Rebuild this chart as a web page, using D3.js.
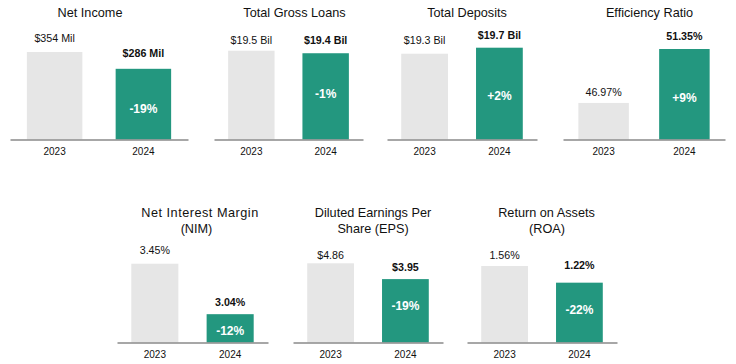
<!DOCTYPE html>
<html><head><meta charset="utf-8">
<script src="https://cdn.jsdelivr.net/npm/d3@7"></script>
<style>html,body{margin:0;padding:0;background:#fff;} svg{display:block;font-family:"Liberation Sans",Arial,sans-serif;}</style>
</head><body><svg id="c" width="736" height="364"></svg>
<script>
// ---- data ----
const titles = [["Net Income"], ["Total Gross Loans"], ["Total Deposits"], ["Efficiency Ratio"],
  ["Net Interest Margin", "(NIM)"], ["Diluted Earnings Per", "Share (EPS)"], ["Return on Assets", "(ROA)"]];
const years = ["2023", "2024"];
const values2023 = [354, 19.5, 19.3, 46.97, 3.45, 4.86, 1.56];
const values2024 = [286, 19.4, 19.7, 51.35, 3.04, 3.95, 1.22];
const labels2023 = ["$354 Mil", "$19.5 Bil", "$19.3 Bil", "46.97%", "3.45%", "$4.86", "1.56%"];
const labels2024 = ["$286 Mil", "$19.4 Bil", "$19.7 Bil", "51.35%", "3.04%", "$3.95", "1.22%"];
const changes = ["-19%", "-1%", "+2%", "+9%", "-12%", "-19%", "-22%"];

// ---- layout ----
const panelX0 = [10, 214, 387, 563, 117, 293, 467];
const panelX1 = [188, 363, 537, 725, 268, 443, 617];
const panelRow = [0, 0, 0, 0, 1, 1, 1];
const rowBase = [139.5, 342.5];
const rowTitleY = [[16.7], [216.5, 232.5]];
const barTopPx = [52, 50.7, 47.7, 49, 263.7, 263.3, 266];
const domainMin = [0, 16, 13.6, 44, 2.81, 0.3, 0];
const titleX = [[90], [294.5], [467], [649.5], [200, 196.5], [373, 373], [546.5, 547]];
const titleSpacing = [[0], [0], [0], [0], [0.5, 0], [0, 0], [0, 0]];
const labelGap = [[10.3, 11.7], [6.4, 9], [10, 9], [7, 9], [9.4, 8], [4.3, 7.7], [6.7, 13.3]];
const changeDy = [8.5, 2, 6.5, 7.7, 7, -0.5, 1.5];

const GREEN = "#23977F", GREY = "#E6E6E6", INK = "#111";

const svg = d3.select("#c");

titles.forEach((t, i) => {
  const g = svg.append("g");
  const base = rowBase[panelRow[i]];
  const vals = [values2023[i], values2024[i]];
  const labs = [labels2023[i], labels2024[i]];
  const x = d3.scaleBand().domain(years).range([panelX0[i], panelX1[i]])
    .paddingInner(0.375).paddingOuter(0.19);
  const y = d3.scaleLinear().domain([domainMin[i], d3.max(vals)]).range([base, barTopPx[i]]);

  // title
  t.forEach((line, k) => {
    g.append("text").attr("text-anchor", "middle").attr("fill", INK)
      .attr("font-size", 12.7)
      .attr("letter-spacing", titleSpacing[i][k])
      .attr("x", titleX[i][k]).attr("y", rowTitleY[panelRow[i]][k]).text(line);
  });

  // bars
  g.selectAll("rect").data(years).join("rect")
    .attr("x", d => x(d))
    .attr("width", x.bandwidth())
    .attr("y", (d, k) => y(vals[k]))
    .attr("height", (d, k) => base - y(vals[k]))
    .attr("fill", (d, k) => k === 0 ? GREY : GREEN);

  // value labels
  g.selectAll("text.val").data(years).join("text").attr("class", "val")
    .attr("x", d => x(d) + x.bandwidth() / 2)
    .attr("y", (d, k) => y(vals[k]) - labelGap[i][k])
    .attr("text-anchor", "middle")
    .attr("font-size", 10.7)
    .attr("font-weight", (d, k) => k === 1 ? "bold" : "normal")
    .attr("fill", INK)
    .text((d, k) => labs[k]);

  // change label
  g.append("text")
    .attr("x", x("2024") + x.bandwidth() / 2)
    .attr("y", (y(vals[1]) + base) / 2 + changeDy[i])
    .attr("text-anchor", "middle")
    .attr("font-size", 12)
    .attr("font-weight", "bold")
    .attr("fill", "#fff")
    .text(changes[i]);

  // axis
  const ax = g.append("g").attr("transform", `translate(0,${base})`)
    .call(d3.axisBottom(x).tickSize(0).tickPadding(8.8));
  ax.select(".domain").attr("stroke", "#8a8a8a").attr("stroke-width", 1.3);
  ax.selectAll("text").attr("font-size", 10).attr("fill", INK)
    .attr("font-family", '"Liberation Sans",Arial,sans-serif');
});
</script>
</body></html>
